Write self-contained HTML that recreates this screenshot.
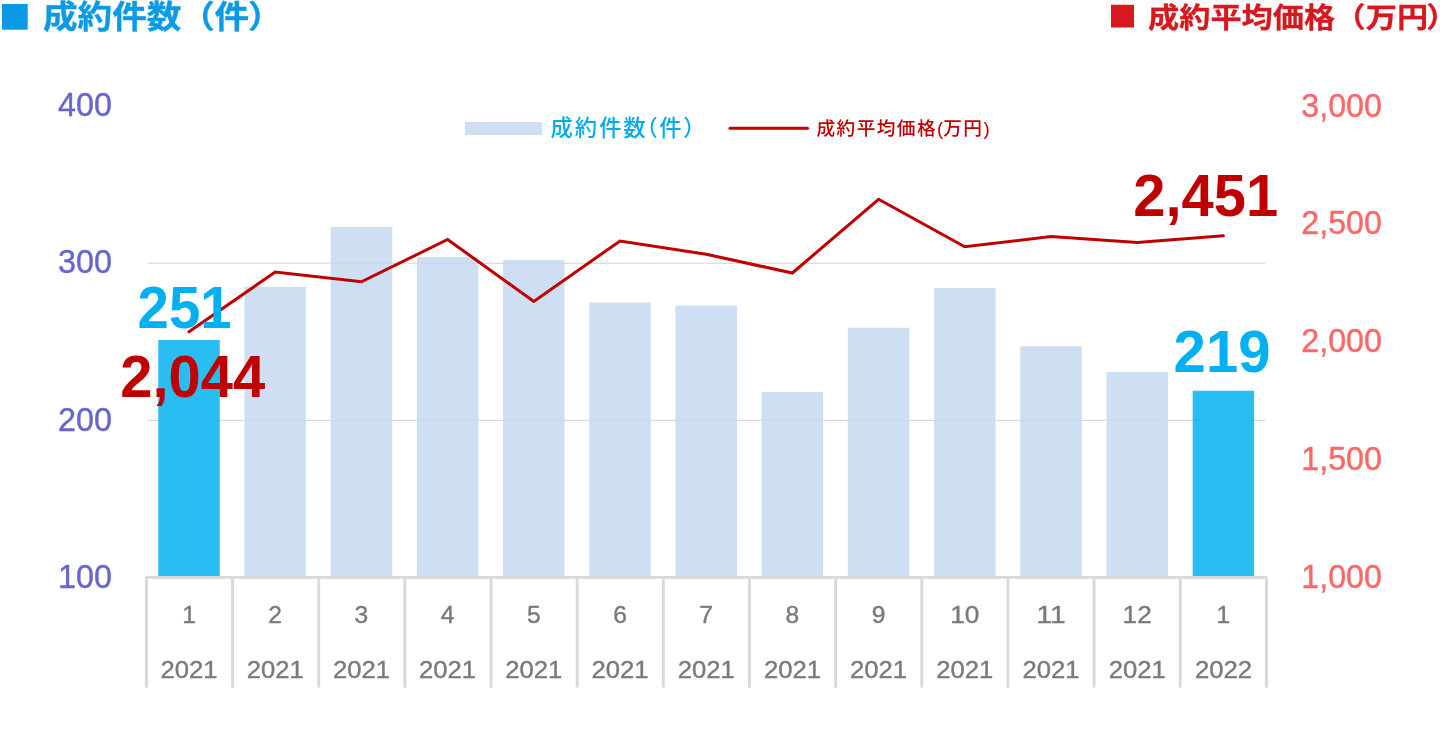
<!DOCTYPE html>
<html lang="ja">
<head>
<meta charset="utf-8">
<title>成約件数・成約平均価格</title>
<style>
html,body{margin:0;padding:0;background:#fff;}
body{width:1440px;height:738px;overflow:hidden;}
svg{display:block;}
text{font-family:"Liberation Sans","Noto Sans CJK JP",sans-serif;}
.jp{font-family:"Liberation Sans","Noto Sans CJK JP",sans-serif;}
</style>
</head>
<body>
<svg width="1440" height="738" viewBox="0 0 1440 738">
<rect x="0" y="0" width="1440" height="738" fill="#ffffff"/>

<rect x="2" y="4" width="25.7" height="25.7" fill="#0b9be6"/>
<text class="jp" transform="translate(43,28.2) scale(1,0.91)" x="0 34.6 69.2 103.8 137.2 171.6 205" y="0" font-size="34.6" font-weight="700" fill="#0b9be6" stroke="#0b9be6" stroke-width="0.35">成約件数（件）</text>
<rect x="1111" y="4.75" width="23" height="22.75" fill="#d7191f"/>
<text class="jp" transform="translate(1148,27.8) scale(1,0.90)" x="0 31.2 62.4 93.6 124.8 156 186.6 217.8 249 278.3" y="0" font-size="31.2" font-weight="700" fill="#d7191f" stroke="#d7191f" stroke-width="0.3">成約平均価格（万円）</text>
<rect x="147.8" y="262.65" width="1117.4" height="1.2" fill="#d9d9d9"/>
<rect x="147.8" y="419.79999999999995" width="1117.4" height="1.2" fill="#d9d9d9"/>
<rect x="158.25" y="340" width="61.5" height="236.0" fill="#00b0f0" fill-opacity="0.84"/>
<rect x="244.45" y="286.8" width="61.5" height="289.2" fill="#c5d8f1" fill-opacity="0.85"/>
<rect x="330.65" y="227" width="61.5" height="349.0" fill="#c5d8f1" fill-opacity="0.85"/>
<rect x="416.85" y="257" width="61.5" height="319.0" fill="#c5d8f1" fill-opacity="0.85"/>
<rect x="503.05" y="260" width="61.5" height="316.0" fill="#c5d8f1" fill-opacity="0.85"/>
<rect x="589.25" y="302.5" width="61.5" height="273.5" fill="#c5d8f1" fill-opacity="0.85"/>
<rect x="675.45" y="305.5" width="61.5" height="270.5" fill="#c5d8f1" fill-opacity="0.85"/>
<rect x="761.65" y="392" width="61.5" height="184.0" fill="#c5d8f1" fill-opacity="0.85"/>
<rect x="847.85" y="327.75" width="61.5" height="248.25" fill="#c5d8f1" fill-opacity="0.85"/>
<rect x="934.05" y="288" width="61.5" height="288.0" fill="#c5d8f1" fill-opacity="0.85"/>
<rect x="1020.25" y="346.25" width="61.5" height="229.75" fill="#c5d8f1" fill-opacity="0.85"/>
<rect x="1106.45" y="372" width="61.5" height="204.0" fill="#c5d8f1" fill-opacity="0.85"/>
<rect x="1192.65" y="390.75" width="61.5" height="185.25" fill="#00b0f0" fill-opacity="0.84"/>
<path d="M146.4,687.6 V577.35 H1266.4 V687.6" fill="none" stroke="#d9d9d9" stroke-width="2.9" stroke-linejoin="bevel"/>
<rect x="231.10" y="577.4" width="2.9" height="110.2" fill="#d9d9d9"/>
<rect x="317.26" y="577.4" width="2.9" height="110.2" fill="#d9d9d9"/>
<rect x="403.41" y="577.4" width="2.9" height="110.2" fill="#d9d9d9"/>
<rect x="489.57" y="577.4" width="2.9" height="110.2" fill="#d9d9d9"/>
<rect x="575.72" y="577.4" width="2.9" height="110.2" fill="#d9d9d9"/>
<rect x="661.87" y="577.4" width="2.9" height="110.2" fill="#d9d9d9"/>
<rect x="748.03" y="577.4" width="2.9" height="110.2" fill="#d9d9d9"/>
<rect x="834.18" y="577.4" width="2.9" height="110.2" fill="#d9d9d9"/>
<rect x="920.33" y="577.4" width="2.9" height="110.2" fill="#d9d9d9"/>
<rect x="1006.49" y="577.4" width="2.9" height="110.2" fill="#d9d9d9"/>
<rect x="1092.64" y="577.4" width="2.9" height="110.2" fill="#d9d9d9"/>
<rect x="1178.80" y="577.4" width="2.9" height="110.2" fill="#d9d9d9"/>
<text x="189.00" y="623" font-size="24.4" text-anchor="middle" fill="#7a7a7a" stroke="#7a7a7a" stroke-width="0.4" textLength="13.7" lengthAdjust="spacingAndGlyphs">1</text>
<text x="189.00" y="678" font-size="24.4" text-anchor="middle" fill="#7a7a7a" stroke="#7a7a7a" stroke-width="0.4" textLength="57" lengthAdjust="spacingAndGlyphs">2021</text>
<text x="275.20" y="623" font-size="24.4" text-anchor="middle" fill="#7a7a7a" stroke="#7a7a7a" stroke-width="0.4" textLength="13.7" lengthAdjust="spacingAndGlyphs">2</text>
<text x="275.20" y="678" font-size="24.4" text-anchor="middle" fill="#7a7a7a" stroke="#7a7a7a" stroke-width="0.4" textLength="57" lengthAdjust="spacingAndGlyphs">2021</text>
<text x="361.40" y="623" font-size="24.4" text-anchor="middle" fill="#7a7a7a" stroke="#7a7a7a" stroke-width="0.4" textLength="13.7" lengthAdjust="spacingAndGlyphs">3</text>
<text x="361.40" y="678" font-size="24.4" text-anchor="middle" fill="#7a7a7a" stroke="#7a7a7a" stroke-width="0.4" textLength="57" lengthAdjust="spacingAndGlyphs">2021</text>
<text x="447.60" y="623" font-size="24.4" text-anchor="middle" fill="#7a7a7a" stroke="#7a7a7a" stroke-width="0.4" textLength="13.7" lengthAdjust="spacingAndGlyphs">4</text>
<text x="447.60" y="678" font-size="24.4" text-anchor="middle" fill="#7a7a7a" stroke="#7a7a7a" stroke-width="0.4" textLength="57" lengthAdjust="spacingAndGlyphs">2021</text>
<text x="533.80" y="623" font-size="24.4" text-anchor="middle" fill="#7a7a7a" stroke="#7a7a7a" stroke-width="0.4" textLength="13.7" lengthAdjust="spacingAndGlyphs">5</text>
<text x="533.80" y="678" font-size="24.4" text-anchor="middle" fill="#7a7a7a" stroke="#7a7a7a" stroke-width="0.4" textLength="57" lengthAdjust="spacingAndGlyphs">2021</text>
<text x="620.00" y="623" font-size="24.4" text-anchor="middle" fill="#7a7a7a" stroke="#7a7a7a" stroke-width="0.4" textLength="13.7" lengthAdjust="spacingAndGlyphs">6</text>
<text x="620.00" y="678" font-size="24.4" text-anchor="middle" fill="#7a7a7a" stroke="#7a7a7a" stroke-width="0.4" textLength="57" lengthAdjust="spacingAndGlyphs">2021</text>
<text x="706.20" y="623" font-size="24.4" text-anchor="middle" fill="#7a7a7a" stroke="#7a7a7a" stroke-width="0.4" textLength="13.7" lengthAdjust="spacingAndGlyphs">7</text>
<text x="706.20" y="678" font-size="24.4" text-anchor="middle" fill="#7a7a7a" stroke="#7a7a7a" stroke-width="0.4" textLength="57" lengthAdjust="spacingAndGlyphs">2021</text>
<text x="792.40" y="623" font-size="24.4" text-anchor="middle" fill="#7a7a7a" stroke="#7a7a7a" stroke-width="0.4" textLength="13.7" lengthAdjust="spacingAndGlyphs">8</text>
<text x="792.40" y="678" font-size="24.4" text-anchor="middle" fill="#7a7a7a" stroke="#7a7a7a" stroke-width="0.4" textLength="57" lengthAdjust="spacingAndGlyphs">2021</text>
<text x="878.60" y="623" font-size="24.4" text-anchor="middle" fill="#7a7a7a" stroke="#7a7a7a" stroke-width="0.4" textLength="13.7" lengthAdjust="spacingAndGlyphs">9</text>
<text x="878.60" y="678" font-size="24.4" text-anchor="middle" fill="#7a7a7a" stroke="#7a7a7a" stroke-width="0.4" textLength="57" lengthAdjust="spacingAndGlyphs">2021</text>
<text x="964.80" y="623" font-size="24.4" text-anchor="middle" fill="#7a7a7a" stroke="#7a7a7a" stroke-width="0.4" textLength="29.2" lengthAdjust="spacingAndGlyphs">10</text>
<text x="964.80" y="678" font-size="24.4" text-anchor="middle" fill="#7a7a7a" stroke="#7a7a7a" stroke-width="0.4" textLength="57" lengthAdjust="spacingAndGlyphs">2021</text>
<text x="1051.00" y="623" font-size="24.4" text-anchor="middle" fill="#7a7a7a" stroke="#7a7a7a" stroke-width="0.4" textLength="29.2" lengthAdjust="spacingAndGlyphs">11</text>
<text x="1051.00" y="678" font-size="24.4" text-anchor="middle" fill="#7a7a7a" stroke="#7a7a7a" stroke-width="0.4" textLength="57" lengthAdjust="spacingAndGlyphs">2021</text>
<text x="1137.20" y="623" font-size="24.4" text-anchor="middle" fill="#7a7a7a" stroke="#7a7a7a" stroke-width="0.4" textLength="29.2" lengthAdjust="spacingAndGlyphs">12</text>
<text x="1137.20" y="678" font-size="24.4" text-anchor="middle" fill="#7a7a7a" stroke="#7a7a7a" stroke-width="0.4" textLength="57" lengthAdjust="spacingAndGlyphs">2021</text>
<text x="1223.40" y="623" font-size="24.4" text-anchor="middle" fill="#7a7a7a" stroke="#7a7a7a" stroke-width="0.4" textLength="13.7" lengthAdjust="spacingAndGlyphs">1</text>
<text x="1223.40" y="678" font-size="24.4" text-anchor="middle" fill="#7a7a7a" stroke="#7a7a7a" stroke-width="0.4" textLength="57" lengthAdjust="spacingAndGlyphs">2022</text>
<text x="58" y="116.4" font-size="32.9" fill="#6666cc" stroke="#6666cc" stroke-width="0.4" textLength="54" lengthAdjust="spacingAndGlyphs">400</text>
<text x="58" y="273.4" font-size="32.9" fill="#6666cc" stroke="#6666cc" stroke-width="0.4" textLength="54" lengthAdjust="spacingAndGlyphs">300</text>
<text x="58" y="431.0" font-size="32.9" fill="#6666cc" stroke="#6666cc" stroke-width="0.4" textLength="54" lengthAdjust="spacingAndGlyphs">200</text>
<text x="58" y="588.3" font-size="32.9" fill="#6666cc" stroke="#6666cc" stroke-width="0.4" textLength="54" lengthAdjust="spacingAndGlyphs">100</text>
<text x="1301.3" y="116.5" font-size="33.1" fill="#ff6666" stroke="#ff6666" stroke-width="0.4" textLength="80.6" lengthAdjust="spacingAndGlyphs">3,000</text>
<text x="1301.3" y="234.39999999999998" font-size="33.1" fill="#ff6666" stroke="#ff6666" stroke-width="0.4" textLength="80.6" lengthAdjust="spacingAndGlyphs">2,500</text>
<text x="1301.3" y="352.2" font-size="33.1" fill="#ff6666" stroke="#ff6666" stroke-width="0.4" textLength="80.6" lengthAdjust="spacingAndGlyphs">2,000</text>
<text x="1301.3" y="470.09999999999997" font-size="33.1" fill="#ff6666" stroke="#ff6666" stroke-width="0.4" textLength="80.6" lengthAdjust="spacingAndGlyphs">1,500</text>
<text x="1301.3" y="588.0" font-size="33.1" fill="#ff6666" stroke="#ff6666" stroke-width="0.4" textLength="80.6" lengthAdjust="spacingAndGlyphs">1,000</text>
<rect x="465" y="122" width="77" height="13" fill="#c5d8f1" fill-opacity="0.85"/>
<text class="jp" x="550.6 574.8 599.2 623.3 635.4 659.3 683.2" y="136.0" font-size="22.3" font-weight="500" fill="#05abed">成約件数（件）</text>
<line x1="730" y1="128.3" x2="807.5" y2="128.3" stroke="#c00000" stroke-width="3" stroke-linecap="round"/>
<text class="jp" x="816.5" y="134.6" font-size="18.7" font-weight="500" fill="#c00000" letter-spacing="1.4">成約平均価格<tspan letter-spacing="0">(</tspan>万円<tspan letter-spacing="0">)</tspan></text>
<polyline points="189.00,331.8 275.20,272 361.40,281.8 447.60,239.5 533.80,301.4 620.00,241 706.20,254.25 792.40,273 878.60,199.25 964.80,246.75 1051.00,236.6 1137.20,242.5 1223.40,235.75" fill="none" stroke="#c00000" stroke-width="3.05" stroke-linejoin="miter" stroke-linecap="round"/>
<text x="137.6" y="327.9" font-size="59.5" font-weight="700" fill="#00b0f0" textLength="94" lengthAdjust="spacingAndGlyphs">251</text>
<text x="120.3" y="396.9" font-size="59.8" font-weight="700" fill="#c00000" textLength="145" lengthAdjust="spacingAndGlyphs">2,044</text>
<text x="1133.3" y="215.7" font-size="59.8" font-weight="700" fill="#c00000" textLength="145" lengthAdjust="spacingAndGlyphs">2,451</text>
<text x="1173.6" y="372.4" font-size="59.5" font-weight="700" fill="#00b0f0" textLength="97" lengthAdjust="spacingAndGlyphs">219</text>
</svg>
</body>
</html>
